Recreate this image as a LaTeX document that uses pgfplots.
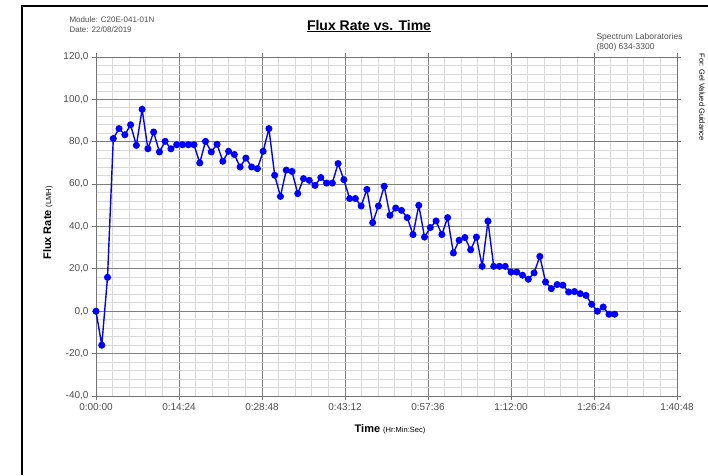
\documentclass[border=0pt]{standalone}
\usepackage{pgfplots}
\pgfplotsset{compat=1.18}
\usepackage{fontspec}
\setmainfont{Liberation Sans}
\begin{document}
\begin{tikzpicture}[x=1pt,y=1pt]
\path[use as bounding box] (0,0) rectangle (708,475);
\draw[black, line width=1.6pt] (22,0) -- (22,469) -- (710,469);
\begin{axis}[
  at={(96pt,79pt)}, anchor=south west,
  scale only axis, width=581pt, height=339pt,
  xmin=0, xmax=100.8, ymin=-40, ymax=120,
  xtick={0,14.4,28.8,43.2,57.6,72,86.4,100.8},
  xticklabels={0:00:00,0:14:24,0:28:48,0:43:12,0:57:36,1:12:00,1:26:24,1:40:48},
  ytick={-40,-20,0,20,40,60,80,100,120},
  minor x tick num=4, minor y tick num=4,
  grid=both,
  major grid style={draw=black!50, line width=0.8pt},
  minor grid style={draw=black!15, line width=0.8pt},
  axis line style={draw=black!55, line width=0.8pt},
  tick style={draw=black!55, line width=0.8pt},
  tick align=outside, major tick length=4pt, minor tick length=0pt,
  ticklabel style={font=\fontsize{10}{11}\selectfont, text=black!70},
  /pgf/number format/.cd, fixed, fixed zerofill, precision=1, use comma, assume math mode=true,
]
\addplot[color=blue, line width=1.4pt, mark=*, mark size=2.8pt, mark options={fill=blue, draw=blue}] coordinates {
(0,0) (1,-16) (2,16) (3,81.5) (4,86.2) (5,83.3) (6,88.0) (7,78.3) (8,95.3) (9,76.7)
(10,84.6) (11,75.2) (12,80.2) (13,76.7) (14,78.6) (15,78.6) (16,78.6) (17,78.6) (18,70.0) (19,80.2)
(20,75.2) (21,78.8) (22,70.8) (23,75.5) (24,74.0) (25,68.1) (26,72.3) (27,68.1) (28,67.3) (29,75.5)
(30,86.2) (31,64.2) (32,54.2) (33,66.6) (34,66.0) (35,55.5) (36,62.6) (37,61.8) (38,59.4) (39,63.1)
(40,60.5) (41,60.5) (42,69.7) (43,62.1) (44,53.2) (45,53.2) (46,49.7) (47,57.5) (48,41.8) (49,49.7)
(50,59.0) (51,45.3) (52,48.7) (53,47.6) (54,44.2) (55,36.2) (56,50.0) (57,35.0) (58,39.5) (59,42.6)
(60,36.2) (61,44.2) (62,27.5) (63,33.5) (64,34.8) (65,29.0) (66,35.0) (67,21.2) (68,42.5) (69,21.2)
(70,21.2) (71,21.2) (72,18.5) (73,18.5) (74,17.0) (75,15.1) (76,18.1) (77,25.9) (78,13.8) (79,10.7)
(80,12.6) (81,12.3) (82,9.1) (83,9.3) (84,8.3) (85,7.5) (86,3.3) (87,0.0) (88,2.0) (89,-1.4)
(90,-1.4)
};
\end{axis}
\node[anchor=west, font=\fontsize{8}{9}\selectfont, text=black!70] at (66,455) {Module: C20E-041-01N};
\node[anchor=west, font=\fontsize{8}{9}\selectfont, text=black!70] at (66,445) {Date: 22/08/2019};
\node[font=\bfseries\fontsize{14}{16}\selectfont] at (369,449) {\underline{Flux Rate vs. Time}};
\node[anchor=west, font=\fontsize{8.5}{9}\selectfont, text=black!70] at (593,438) {Spectrum Laboratories};
\node[anchor=west, font=\fontsize{8.5}{9}\selectfont, text=black!70] at (593,428) {(800) 634-3300};
\node[rotate=-90, font=\fontsize{7.5}{8}\selectfont] at (702,378) {For: Gel Valued Guidance};
\node[rotate=90, font=\bfseries\fontsize{11}{12}\selectfont] at (48,252) {Flux Rate {\mdseries\fontsize{7.5}{8}\selectfont (LMH)}};
\node[font=\bfseries\fontsize{11}{12}\selectfont] at (390,46) {Time {\mdseries\fontsize{7.5}{8}\selectfont (Hr:Min:Sec)}};
\end{tikzpicture}
\end{document}
